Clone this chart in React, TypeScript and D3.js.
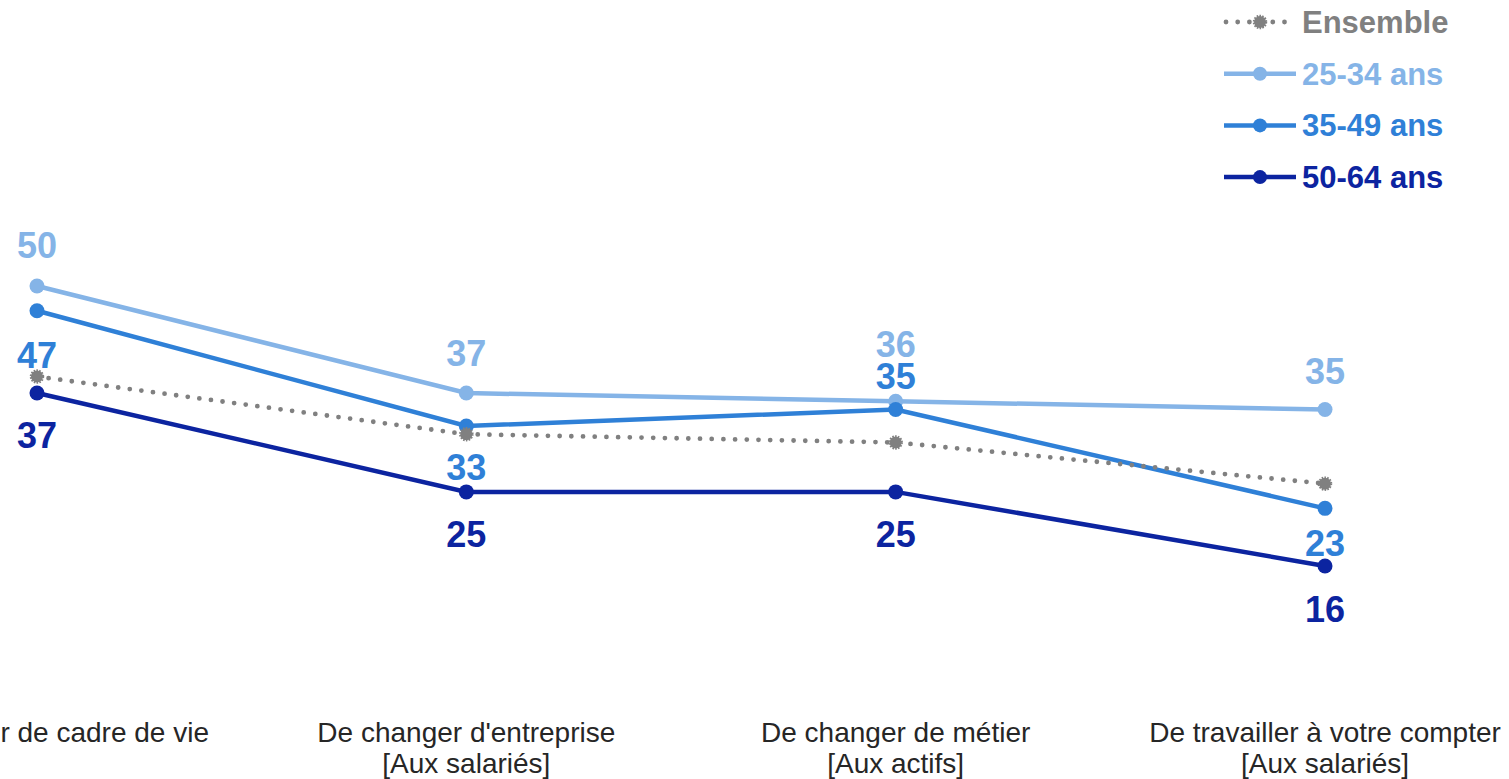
import React from "react";
import * as d3 from "d3";

const categories = [
  ["De changer de cadre de vie"],
  ["De changer d'entreprise", "[Aux salariés]"],
  ["De changer de métier", "[Aux actifs]"],
  ["De travailler à votre compter", "[Aux salariés]"],
];
const seriesNames = ["Ensemble", "25-34 ans", "35-49 ans", "50-64 ans"];
const ensemble = [39, 32, 31, 26];
const age2534 = [50, 37, 36, 35];
const age3549 = [47, 33, 35, 23];
const age5064 = [37, 25, 25, 16];
const colors = ["#808080", "#85B4E7", "#2F80D7", "#0C24A0"];
// label vertical offsets (baseline relative to point), null = no label
const labelOffsets = [
  null,
  [-28, -27, -44, -26],
  [57, 54, -21, 48],
  [55, 55, 55, 56],
];

const W = 1509;
const H = 779;

export default function App() {
  const keys = categories.map((c) => c[0]);
  const x = d3.scalePoint<string>().domain(keys).range([37, 1325]);
  const y = d3.scaleLinear().domain([0, 50]).range([697.75, 286]);
  const data = [ensemble, age2534, age3549, age5064];
  const line = d3
    .line<number>()
    .x((_, i) => x(keys[i]) as number)
    .y((d) => y(d));

  const drawOrder = [1, 2, 0, 3];

  return (
    <svg
      width={W}
      height={H}
      style={{ position: "absolute", left: 0, top: 0, background: "#fff" }}
      fontFamily="'Liberation Sans', Arial, sans-serif"
    >
      {drawOrder.map((si) => {
        const vals = data[si];
        const c = colors[si];
        if (si === 0) {
          return (
            <g key={si}>
              <path
                d={line(vals) || ""}
                fill="none"
                stroke={c}
                strokeWidth={4.8}
                strokeDasharray="0 11.7"
                strokeLinecap="round"
              />
              {vals.map((v, i) => (
                <circle
                  key={i}
                  cx={x(keys[i])}
                  cy={y(v)}
                  r={6}
                  fill={c}
                  stroke={c}
                  strokeWidth={2.5}
                  strokeDasharray="1.5 1.2"
                />
              ))}
            </g>
          );
        }
        return (
          <g key={si}>
            <path d={line(vals) || ""} fill="none" stroke={c} strokeWidth={4.5} />
            {vals.map((v, i) => (
              <circle key={i} cx={x(keys[i])} cy={y(v)} r={7.5} fill={c} />
            ))}
          </g>
        );
      })}
      {data.map((vals, si) => {
        const offs = labelOffsets[si];
        if (!offs) return null;
        return (
          <g key={"l" + si}>
            {vals.map((v, i) => (
              <text
                key={i}
                x={x(keys[i])}
                y={y(v) + offs[i]}
                textAnchor="middle"
                fontSize={36}
                fontWeight="bold"
                fill={colors[si]}
              >
                {v}
              </text>
            ))}
          </g>
        );
      })}
      {categories.map((lines, i) => (
        <text
          key={"c" + i}
          x={x(keys[i])}
          y={742}
          textAnchor="middle"
          fontSize={28}
          fill="#262626"
        >
          {lines.map((t, j) => (
            <tspan key={j} x={x(keys[i])} dy={j === 0 ? 0 : 31}>
              {t}
            </tspan>
          ))}
        </text>
      ))}
      {seriesNames.map((name, si) => {
        const cy = 22 + si * 51.7;
        const c = colors[si];
        return (
          <g key={"lg" + si}>
            {si === 0 ? (
              <>
                <line
                  x1={1226}
                  x2={1294}
                  y1={cy}
                  y2={cy}
                  stroke={c}
                  strokeWidth={4.8}
                  strokeDasharray="0 11.7"
                  strokeLinecap="round"
                />
                <circle
                  cx={1260}
                  cy={cy}
                  r={6}
                  fill={c}
                  stroke={c}
                  strokeWidth={2.5}
                  strokeDasharray="1.5 1.2"
                />
              </>
            ) : (
              <>
                <line x1={1224} x2={1296} y1={cy} y2={cy} stroke={c} strokeWidth={4.5} />
                <circle cx={1260} cy={cy} r={7} fill={c} />
              </>
            )}
            <text x={1302} y={cy + 11} fontSize={31} fontWeight="bold" fill={c}>
              {name}
            </text>
          </g>
        );
      })}
    </svg>
  );
}
